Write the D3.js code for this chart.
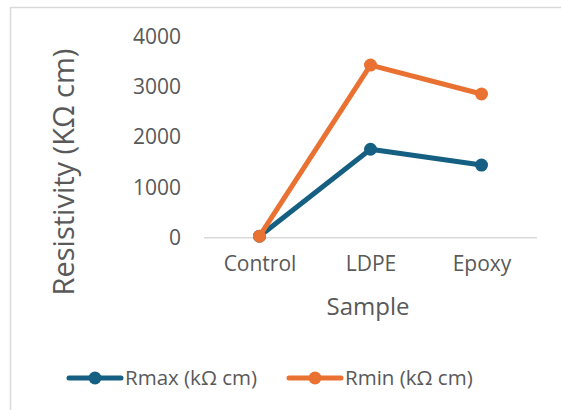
<!DOCTYPE html>
<html lang="en">
<head>
    <meta charset="UTF-8">
    <title>Resistivity by sample</title>
    <style>
        body { margin: 0; background: #fff; }
        svg text { font-family: "Open Sans", "Liberation Sans", Arial, sans-serif; fill: #595959; }
    </style>
</head>
<body>
    <script src="https://cdn.jsdelivr.net/npm/d3@7"></script>
    <script>
        const samples = ['Control', 'LDPE', 'Epoxy'];
        const rmax = [30, 1760, 1445];
        const rmin = [30, 3435, 2860];
        const y_ticks = [0, 1000, 2000, 3000, 4000];
        const series_names = ['Rmax (k\u03A9 cm)', 'Rmin (k\u03A9 cm)'];
        const series_colors = ['#156082', '#E97132'];

        const svg_w = 561;
        const svg_h = 410;
        const font = '"Open Sans", "Liberation Sans", Arial, sans-serif';

        const svg = d3.select('body').append('svg')
            .attr('width', svg_w)
            .attr('height', svg_h);

        // chart frame (cropped on the right and bottom)
        svg.append('rect')
            .attr('x', 10.5).attr('y', 7.5)
            .attr('width', 600).attr('height', 450)
            .attr('fill', 'none')
            .attr('stroke', '#d9d9d9')
            .attr('stroke-width', 1.5);

        const x_scale = d3.scalePoint(samples, [204, 537]).padding(0.5);
        const y_scale = d3.scaleLinear([0, 4000], [237.7, 36.7]);

        // y axis labels only
        const y_axis = d3.axisLeft(y_scale).tickValues(y_ticks)
            .tickFormat(d3.format('d')).tickSize(0).tickPadding(0);
        const gy = svg.append('g').attr('transform', 'translate(181,0)').call(y_axis);
        gy.select('.domain').remove();
        gy.selectAll('text').attr('font-size', 21).attr('fill', '#595959')
            .style('font-family', font);

        // x axis baseline + category labels
        const x_axis = d3.axisBottom(x_scale).tickSize(0).tickPadding(18);
        const gx = svg.append('g').attr('transform', `translate(0,${y_scale(0)})`).call(x_axis);
        gx.select('.domain').attr('stroke', '#d9d9d9').attr('stroke-width', 1.5)
            .attr('d', 'M204,0H537');
        gx.selectAll('text').attr('font-size', 21).attr('fill', '#595959')
            .style('font-family', font);

        // axis titles
        svg.append('text')
            .attr('transform', 'translate(74,172) rotate(-90)')
            .attr('text-anchor', 'middle')
            .attr('font-size', 29)
            .text('Resistivity (K\u03A9 cm)');

        svg.append('text')
            .attr('x', 368).attr('y', 315)
            .attr('text-anchor', 'middle')
            .attr('font-size', 24)
            .text('Sample');

        // series
        const line = d3.line()
            .x((d, i) => x_scale(samples[i]))
            .y(d => y_scale(d));

        [rmax, rmin].forEach((values, s) => {
            svg.append('path')
                .datum(values)
                .attr('d', line)
                .attr('fill', 'none')
                .attr('stroke', series_colors[s])
                .attr('stroke-width', 5)
                .attr('stroke-linejoin', 'round');

            svg.selectAll('.pt' + s)
                .data(values)
                .enter()
                .append('circle')
                .attr('class', 'pt' + s)
                .attr('cx', (d, i) => x_scale(samples[i]))
                .attr('cy', d => y_scale(d))
                .attr('r', 6.5)
                .attr('fill', series_colors[s]);
        });

        // legend
        const legend_x = [69, 289];
        const legend_y = 378;
        series_names.forEach((name, s) => {
            const g = svg.append('g').attr('transform', `translate(${legend_x[s]},${legend_y})`);
            g.append('line')
                .attr('x1', 0).attr('x2', 52)
                .attr('stroke', series_colors[s])
                .attr('stroke-width', 5)
                .attr('stroke-linecap', 'round');
            g.append('circle')
                .attr('cx', 26).attr('r', 6.5)
                .attr('fill', series_colors[s]);
            g.append('text')
                .attr('x', 56).attr('dy', '0.35em')
                .attr('font-size', 20.5)
                .text(name);
        });
    </script>
</body>
</html>
